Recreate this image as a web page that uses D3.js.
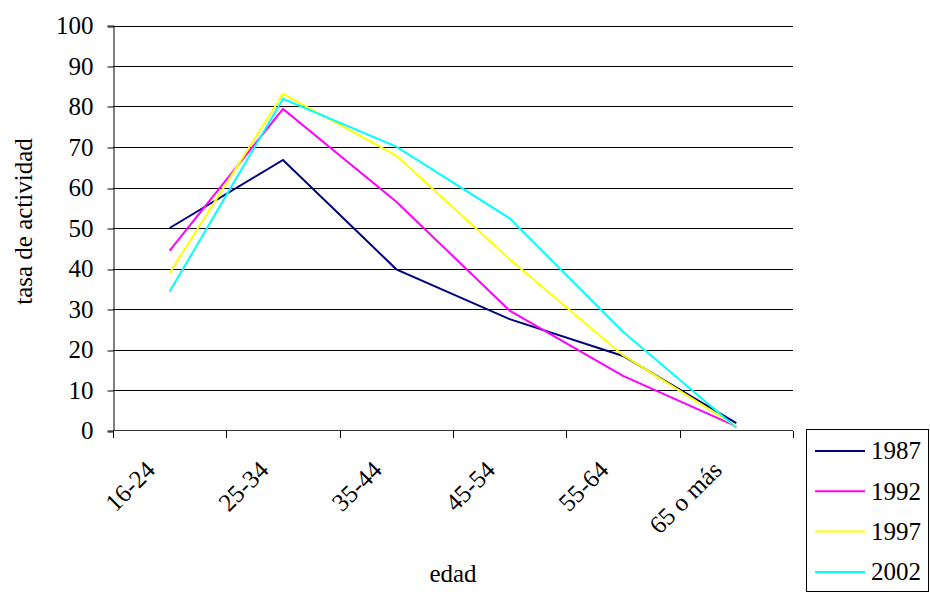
<!DOCTYPE html>
<html>
<head>
<meta charset="utf-8">
<script src="https://cdn.jsdelivr.net/npm/d3@7"></script>
</head>
<body style="margin:0; background:#fff">
<svg id="chart" width="930" height="592" style="display:block"></svg>
<script>
// Tasa de actividad por grupo de edad
const categories = ["16-24", "25-34", "35-44", "45-54", "55-64", "65 o más"];
const years = ["1987", "1992", "1997", "2002"];
const values1987 = [50.0, 66.8, 39.8, 27.5, 18.4, 1.8];
const values1992 = [44.4, 79.4, 56.5, 29.6, 13.5, 1.0];
const values1997 = [38.9, 83.1, 67.9, 42.3, 18.6, 1.0];
const values2002 = [34.3, 81.9, 70.1, 52.4, 24.4, 0.7];
const yTicks = [0, 10, 20, 30, 40, 50, 60, 70, 80, 90, 100];
const colors = ["#000080", "#FF00FF", "#FFFF00", "#00FFFF"];

const serif = "'Liberation Serif'";
const fontSize = "25px";

const series = [values1987, values1992, values1997, values2002].map((v, i) => ({
  name: years[i], values: v, color: colors[i]
}));

const svg = d3.select("#chart");
const plotLeft = 113, plotRight = 793, plotTop = 25.5, plotBottom = 430.5;

const x = d3.scaleBand().domain(categories).range([plotLeft, plotRight]);
const y = d3.scaleLinear().domain([0, 100]).range([plotBottom, plotTop]);
const snap = v => Math.round(v) + 0.5;
const serifText = sel => sel.style("font-family", serif).style("font-size", fontSize).attr("fill", "#000");

// horizontal gridlines
svg.append("g")
  .selectAll("line")
  .data(yTicks.filter(d => d > 0))
  .join("line")
  .attr("x1", plotLeft).attr("x2", plotRight)
  .attr("y1", d => snap(y(d))).attr("y2", d => snap(y(d)))
  .attr("stroke", "#000").attr("stroke-width", 1);

// y axis
const yAxis = d3.axisLeft(y).tickValues(yTicks).tickSize(6).tickPadding(14);
const gy = svg.append("g").attr("transform", `translate(${plotLeft + 0.5},0)`).call(yAxis);
gy.select(".domain").attr("stroke", "#000");
gy.selectAll(".tick line").attr("stroke", "#000")
  .attr("transform", d => `translate(0,${snap(y(d)) - y(d)})`);
gy.selectAll(".tick text").call(serifText);

// x axis: ticks at band boundaries
const boundaries = categories.map(c => x(c)).concat([plotRight]);
svg.append("line")
  .attr("x1", plotLeft).attr("x2", plotRight)
  .attr("y1", snap(plotBottom - 0.5)).attr("y2", snap(plotBottom - 0.5))
  .attr("stroke", "#333");
svg.append("g").selectAll("line")
  .data(boundaries)
  .join("line")
  .attr("x1", d => snap(d)).attr("x2", d => snap(d))
  .attr("y1", Math.round(plotBottom)).attr("y2", Math.round(plotBottom) + 7)
  .attr("stroke", "#000");

// rotated category labels
svg.append("g").selectAll("text")
  .data(categories)
  .join("text")
  .attr("transform", d => `translate(${x(d) + x.bandwidth() / 2 - 13},${plotBottom + 41}) rotate(-45)`)
  .attr("text-anchor", "end")
  .call(serifText)
  .text(d => d);

// series lines
const line = d3.line()
  .x((d, i) => x(categories[i]) + x.bandwidth() / 2)
  .y(d => y(d));

svg.append("g").selectAll("path")
  .data(series)
  .join("path")
  .attr("d", d => line(d.values))
  .attr("fill", "none")
  .attr("stroke", d => d.color)
  .attr("stroke-width", 2)
  .attr("stroke-linejoin", "miter");

// axis titles
svg.append("text")
  .attr("x", 453).attr("y", 582)
  .attr("text-anchor", "middle")
  .call(serifText)
  .text("edad");

svg.append("text")
  .attr("transform", "translate(32,221.5) rotate(-90)")
  .attr("text-anchor", "middle")
  .call(serifText)
  .text("tasa de actividad");

// legend
const legend = svg.append("g");
legend.append("rect")
  .attr("x", 806.5).attr("y", 429.5).attr("width", 122).attr("height", 162)
  .attr("fill", "#fff").attr("stroke", "#000");
const rows = legend.selectAll("g.row")
  .data(series)
  .join("g")
  .attr("class", "row")
  .attr("transform", (d, i) => `translate(0,${451 + i * 40.3})`);
rows.append("line")
  .attr("x1", 815).attr("x2", 865).attr("y1", 0).attr("y2", 0)
  .attr("stroke", d => d.color).attr("stroke-width", 2);
rows.append("text")
  .attr("x", 871).attr("y", 0).attr("dy", "0.33em")
  .call(serifText)
  .text(d => d.name);
</script>
</body>
</html>
